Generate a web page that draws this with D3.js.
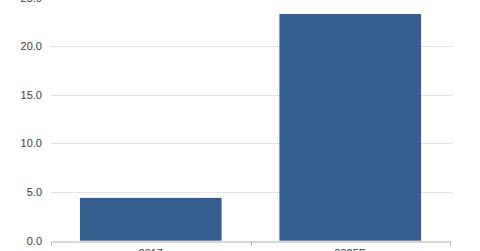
<!DOCTYPE html>
<html>
<head>
<meta charset="utf-8">
<script src="https://cdn.jsdelivr.net/npm/d3@7"></script>
<style>
  body { margin: 0; background: #fff; }
  svg { display: block; font-family: "Liberation Sans", Arial, sans-serif; }
</style>
</head>
<body>
<svg id="chart" width="480" height="251"></svg>
<script>
// chart data
const categories = ["2017", "2025E"];
const values = [4.4, 23.3];
const yTicks = [0, 5, 10, 15, 20, 25];

const svg = d3.select("#chart");
const plotLeft = 51, plotRight = 450, plotTop = -2.5, plotBottom = 240.7;

const x = d3.scaleBand()
    .domain(categories)
    .range([plotLeft, plotRight])
    .paddingInner(0.29)
    .paddingOuter(0.145);

const y = d3.scaleLinear()
    .domain([0, 25])
    .range([plotBottom, plotTop]);

// gridlines
svg.append("g")
    .selectAll("line")
    .data(yTicks.filter(d => d > 0))
    .enter()
    .append("line")
    .attr("x1", plotLeft)
    .attr("x2", plotRight + 2)
    .attr("y1", d => Math.round(y(d)) + 0.5)
    .attr("y2", d => Math.round(y(d)) + 0.5)
    .attr("stroke", "#c8c8c8")
    .attr("stroke-dasharray", "1,1");

// y tick labels
svg.append("g")
    .selectAll("text")
    .data(yTicks)
    .enter()
    .append("text")
    .attr("x", 42)
    .attr("y", d => y(d) + 4)
    .attr("text-anchor", "end")
    .attr("font-size", "11px")
    .attr("fill", "#404040")
    .text(d => d.toFixed(1));

// bars
svg.append("g")
    .selectAll("rect")
    .data(values)
    .enter()
    .append("rect")
    .attr("x", (d, i) => x(categories[i]))
    .attr("width", x.bandwidth())
    .attr("y", d => y(d))
    .attr("height", d => y(0) - y(d))
    .attr("fill", "#355d8d");

// x axis
const xAxis = d3.axisBottom(x).tickSize(0).tickPadding(8);
const gx = svg.append("g")
    .attr("transform", `translate(0,${Math.round(y(0)) + 0.5})`)
    .call(xAxis);
gx.select(".domain").attr("stroke", "#b0b0b0");
gx.selectAll("text")
    .attr("font-size", "11px")
    .attr("fill", "#404040")
    .attr("font-family", "Liberation Sans, Arial, sans-serif");

// category separator ticks
const edges = [plotLeft, (plotLeft + plotRight) / 2, plotRight];
gx.selectAll(".sep")
    .data(edges)
    .enter()
    .append("line")
    .attr("x1", d => Math.round(d) + 0.5)
    .attr("x2", d => Math.round(d) + 0.5)
    .attr("y1", 0)
    .attr("y2", 4)
    .attr("stroke", "#b0b0b0");
</script>
</body>
</html>
